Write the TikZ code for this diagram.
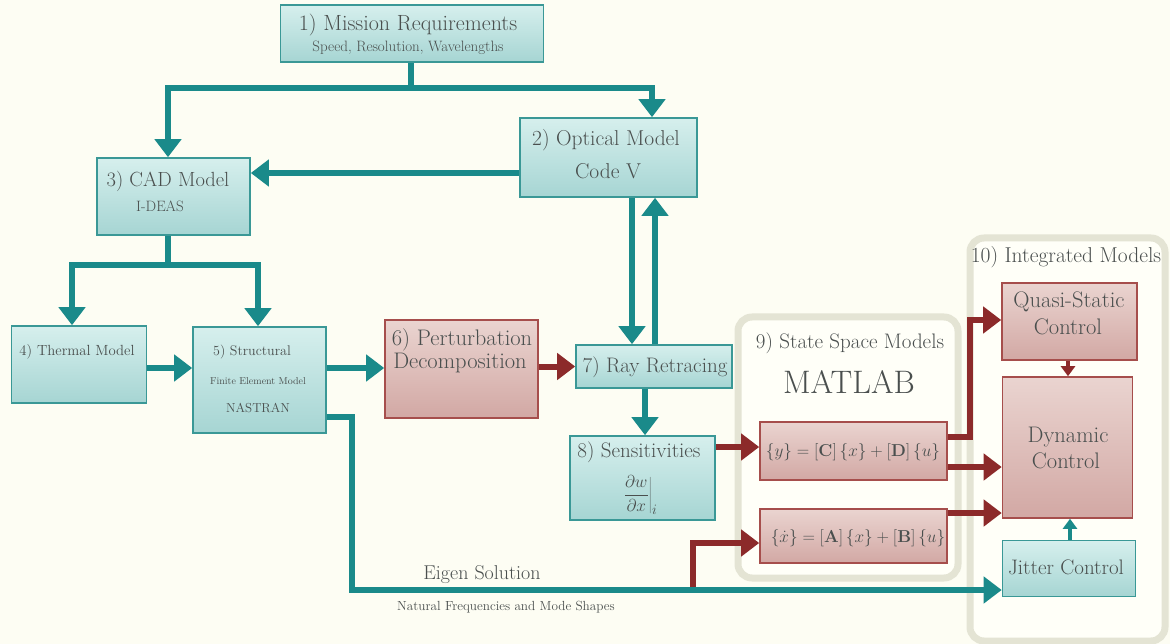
\documentclass[tikz,border=0pt]{standalone}
\usetikzlibrary{arrows.meta}
\definecolor{bg}{HTML}{FDFDF3}
\definecolor{tealline}{HTML}{1A8A8A}
\definecolor{tealedge}{HTML}{3A9896}
\definecolor{tealtop}{HTML}{D6EFED}
\definecolor{tealbot}{HTML}{A6D5D3}
\definecolor{redline}{HTML}{8C2A2A}
\definecolor{rededge}{HTML}{A64E4C}
\definecolor{redtop}{HTML}{EAD4D0}
\definecolor{redbot}{HTML}{D2A8A4}
\definecolor{txt}{HTML}{4A4F4E}
\definecolor{cont}{HTML}{E4E4D4}
\definecolor{contfill}{HTML}{FFFFF8}
\newcommand\fsz[2]{\fontsize{#1}{#2}\selectfont}
\begin{document}
\begin{tikzpicture}[x=1pt,y=-1pt,
  tbox/.style={draw=tealedge,line width=1.6pt,top color=tealtop,bottom color=tealbot,inner sep=0pt},
  rbox/.style={draw=rededge,line width=1.6pt,top color=redtop,bottom color=redbot,inner sep=0pt},
  contbox/.style={draw=cont,line width=7pt,fill=contfill,rounded corners=14pt,inner sep=0pt},
  lbl/.style={text=txt,inner sep=0pt,align=center},
  tline/.style={draw=tealline,line width=6pt,line join=miter},
  tarr/.style={tline,-{Triangle[length=18pt,width=26pt]}},
  tsmall/.style={draw=tealline,line width=4pt,-{Triangle[length=10pt,width=14pt]}},
  rline/.style={draw=redline,line width=6pt,line join=miter},
  rarr/.style={rline,-{Triangle[length=18pt,width=26pt]}},
  rsmall/.style={draw=redline,line width=4pt,-{Triangle[length=10pt,width=14pt]}}]
\useasboundingbox (0,0) rectangle (1170,644);
\fill[bg] (0,0) rectangle (1170,644);

% containers
\node[contbox,minimum width=220pt,minimum height=261pt] (k9) at (848,447.5) {};
\node[contbox,minimum width=195pt,minimum height=403pt] (k10) at (1067.5,439.5) {};

% boxes
\node[tbox,minimum width=263pt,minimum height=57pt] (m1) at (412,33.5) {};
\node[tbox,minimum width=177pt,minimum height=79pt] (o2) at (608.5,157.5) {};
\node[tbox,minimum width=153pt,minimum height=77pt] (c3) at (173.5,196.5) {};
\node[tbox,minimum width=135pt,minimum height=77pt] (t4) at (79,364.5) {};
\node[tbox,minimum width=133pt,minimum height=106pt] (s5) at (259.5,380) {};
\node[rbox,minimum width=153pt,minimum height=98pt] (p6) at (461.5,369) {};
\node[tbox,minimum width=156pt,minimum height=43pt] (r7) at (654,366.5) {};
\node[tbox,minimum width=145pt,minimum height=84pt] (se8) at (642.5,478) {};
\node[rbox,minimum width=187pt,minimum height=58pt] (eqy) at (853.5,451) {};
\node[rbox,minimum width=187pt,minimum height=54pt] (eqx) at (853.5,536) {};
\node[rbox,minimum width=135pt,minimum height=77pt] (qs) at (1069.5,321.5) {};
\node[rbox,minimum width=130pt,minimum height=141pt] (dc) at (1067.5,447.5) {};
\node[tbox,minimum width=133pt,minimum height=56pt] (jc) at (1069,568.5) {};

% labels
\node[lbl,font=\fsz{22}{24}] (m1a) at (408,25) {1) Mission Requirements};
\node[lbl,font=\fsz{15}{17}] (m1b) at (408,48) {Speed, Resolution, Wavelengths};
\node[lbl,font=\fsz{21.5}{23}] (o2a) at (606,140) {2) Optical Model};
\node[lbl,font=\fsz{21.5}{23}] (o2b) at (608,171) {Code V};
\node[lbl,font=\fsz{20.5}{22}] (c3a) at (168,181) {3) CAD Model};
\node[lbl,font=\fsz{15}{17}] (c3b) at (160,206) {I-DEAS};
\node[lbl,font=\fsz{14.7}{16}] (t4a) at (77,352) {4) Thermal Model};
\node[lbl,font=\fsz{14}{16}] (s5a) at (252,352) {5) Structural};
\node[lbl,font=\fsz{10}{12}] (s5b) at (258,381) {Finite Element Model};
\node[lbl,font=\fsz{13}{15}] (s5c) at (258,408) {NASTRAN};
\node[lbl,font=\fsz{22.5}{24}] (p6a) at (462,340) {6) Perturbation};
\node[lbl,font=\fsz{22.5}{24}] (p6b) at (460,363) {Decomposition};
\node[lbl,font=\fsz{21}{23}] (r7a) at (655,367) {7) Ray Retracing};
\node[lbl,font=\fsz{21}{23}] (se8a) at (639,452) {8) Sensitivities};
\node[lbl,font=\fsz{19}{21}] (se8b) at (640,495) {$\left.\displaystyle\frac{\partial w}{\partial x}\right|_{i}$};
\node[lbl,font=\fsz{21}{23}] (k9a) at (850,343) {9) State Space Models};
\node[lbl,font=\fsz{32.5}{34}] (k9b) at (849,382) {MATLAB};
\node[lbl,font=\fsz{16.5}{18}] (eqya) at (853,452) {$\{y\}=[\mathbf{C}]\,\{x\}+[\mathbf{D}]\,\{u\}$};
\node[lbl,font=\fsz{16.5}{18}] (eqxa) at (858,538) {$\{\dot{x}\}=[\mathbf{A}]\,\{x\}+[\mathbf{B}]\,\{u\}$};
\node[lbl,font=\fsz{21.5}{23}] (k10a) at (1066,257) {10) Integrated Models};
\node[lbl,font=\fsz{22.5}{24}] (qsa) at (1069,302) {Quasi-Static};
\node[lbl,font=\fsz{22.5}{24}] (qsb) at (1068,327) {Control};
\node[lbl,font=\fsz{22.5}{24}] (dca) at (1068,437) {Dynamic};
\node[lbl,font=\fsz{22.5}{24}] (dcb) at (1066,461) {Control};
\node[lbl,font=\fsz{21}{23}] (jca) at (1066,567) {Jitter Control};
\node[lbl,font=\fsz{20}{22}] (eig) at (482,575) {Eigen Solution};
\node[lbl,font=\fsz{13.2}{15}] (nat) at (506,607) {Natural Frequencies and Mode Shapes};

% coordinates
\coordinate (jm) at (411,88);
\coordinate (xC) at (168,0);
\coordinate (xO) at (652,0);
\coordinate (jc3) at (168,265);
\coordinate (xT) at (72,0);
\coordinate (xS) at (258,0);
\coordinate (yTS) at (0,368);
\coordinate (yCO) at (0,173);
\coordinate (xDn) at (632,0);
\coordinate (xUp) at (655,0);
\coordinate (xRS) at (645,0);
\coordinate (ySE) at (0,447);
\coordinate (e0) at (0,417);
\coordinate (e1) at (352,417);
\coordinate (e2) at (352,590);
\coordinate (b1) at (693,590);
\coordinate (b2) at (693,543);
\coordinate (q0) at (0,437);
\coordinate (q1) at (970,437);
\coordinate (q2) at (970,320);
\coordinate (yD1) at (0,467);
\coordinate (yD2) at (0,513);
\coordinate (xQD) at (1068,0);
\coordinate (xJD) at (1070,0);

% teal connectors
\draw[tline] (m1.south -| jm) -- (jm);
\draw[tarr] (jm) -| (c3.north -| xC);
\draw[tarr] (jm) -| (o2.north -| xO);
\draw[tarr] (o2.west |- yCO) -- (c3.east |- yCO);
\draw[tline] (c3.south -| jc3) -- (jc3);
\draw[tarr] (jc3) -| (t4.north -| xT);
\draw[tarr] (jc3) -| (s5.north -| xS);
\draw[tarr] (t4.east |- yTS) -- (s5.west |- yTS);
\draw[tarr] (s5.east |- yTS) -- (p6.west |- yTS);
\draw[tarr] (o2.south -| xDn) -- (r7.north -| xDn);
\draw[tarr] (r7.north -| xUp) -- (o2.south -| xUp);
\draw[tarr] (r7.south -| xRS) -- (se8.north -| xRS);

% red connectors
\draw[rarr] (p6.east |- r7.west) -- (r7.west);
\draw[rarr] (se8.east |- ySE) -- (eqy.west |- ySE);
\draw[rarr] (b1) -- (b2) -- (eqx.west |- b2);
\draw[rarr] (eqy.east |- q0) -- (q1) -- (q2) -- (qs.west |- q2);
\draw[rarr] (eqy.east |- yD1) -- (dc.west |- yD1);
\draw[rarr] (eqx.east |- yD2) -- (dc.west |- yD2);
\draw[rsmall] (qs.south -| xQD) -- (dc.north -| xQD);

% eigen line
\draw[tarr] (s5.east |- e0) -- (e1) -- (e2) -- (jc.west |- e2);
\draw[tsmall] (jc.north -| xJD) -- (dc.south -| xJD);
\end{tikzpicture}
\end{document}
